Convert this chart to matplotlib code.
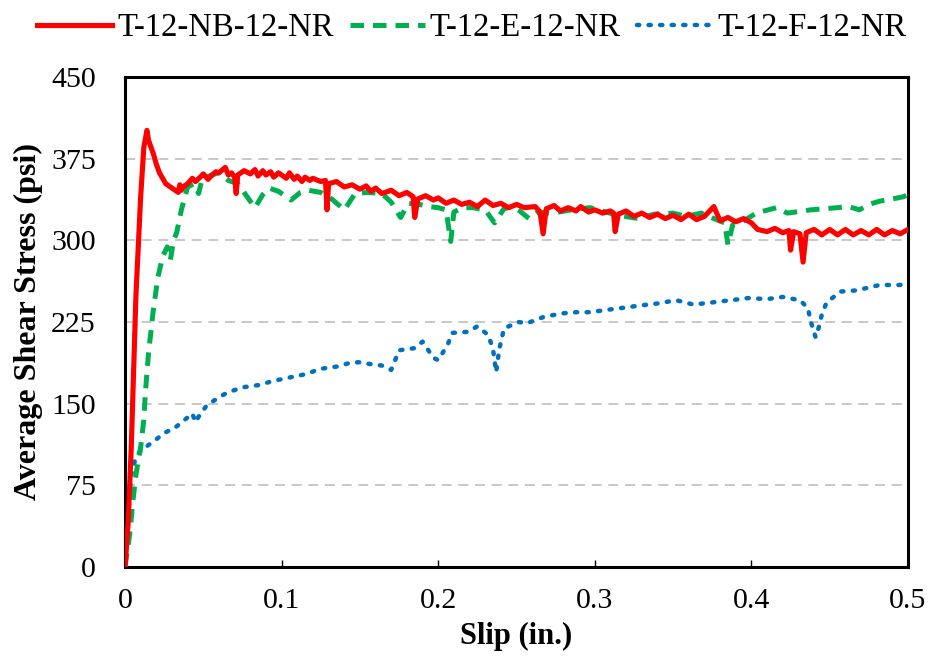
import matplotlib; matplotlib.use("Agg")
import matplotlib.pyplot as plt

# slip (in.) vs average shear stress (psi), three push-off specimens
nb_slip = [0, 0.002, 0.004, 0.0057, 0.007, 0.0087, 0.010, 0.012, 0.014, 0.015, 0.016, 0.018,
           0.020, 0.022, 0.026, 0.030, 0.034, 0.035, 0.036, 0.037, 0.040, 0.043, 0.045, 0.048,
           0.050, 0.053, 0.055, 0.058, 0.060, 0.064, 0.066, 0.068, 0.070, 0.071, 0.072, 0.076,
           0.080, 0.083, 0.085, 0.088, 0.090, 0.093, 0.095, 0.098, 0.100, 0.103, 0.105, 0.108,
           0.110, 0.113, 0.115, 0.118, 0.120, 0.125, 0.128, 0.129, 0.130, 0.135, 0.140, 0.145,
           0.150, 0.154, 0.157, 0.160, 0.164, 0.170, 0.175, 0.180, 0.184, 0.185, 0.187, 0.192,
           0.197, 0.200, 0.205, 0.210, 0.215, 0.220, 0.225, 0.230, 0.235, 0.240, 0.245, 0.250,
           0.255, 0.262, 0.265, 0.267, 0.269, 0.274, 0.278, 0.283, 0.288, 0.291, 0.296, 0.300,
           0.305, 0.310, 0.312, 0.313, 0.315, 0.320, 0.325, 0.330, 0.335, 0.340, 0.345, 0.350,
           0.355, 0.360, 0.365, 0.370, 0.376, 0.380, 0.385, 0.390, 0.395, 0.400, 0.404, 0.410,
           0.415, 0.420, 0.424, 0.425, 0.427, 0.431, 0.433, 0.435, 0.440, 0.445, 0.450, 0.455,
           0.460, 0.465, 0.470, 0.475, 0.480, 0.485, 0.490, 0.495, 0.500]
nb_stress = [0, 40, 110, 190, 250, 300, 340, 385, 401, 392, 388, 380,
             370, 362, 352, 348, 344, 351, 346, 349, 352, 357, 354, 358,
             361, 356, 359, 363, 362, 367, 360, 362, 358, 343, 360, 364,
             361, 365, 359, 364, 360, 363, 358, 362, 360, 357, 362, 356,
             359, 354, 358, 355, 357, 354, 355, 328, 352, 354, 349, 351,
             347, 350, 345, 348, 343, 346, 341, 344, 340, 321, 338, 341,
             337, 339, 334, 337, 333, 335, 331, 337, 332, 334, 330, 333,
             330, 331, 326, 306, 329, 332, 327, 330, 327, 331, 326, 328,
             325, 327, 325, 308, 324, 327, 322, 325, 321, 324, 320, 323,
             319, 324, 319, 322, 331, 318, 321, 317, 320, 316, 310, 308,
             311, 307, 309, 291, 308, 306, 280, 307, 310, 305, 310, 305,
             310, 305, 309, 305, 310, 305, 309, 306, 310]

e_slip = [0, 0.003, 0.005, 0.007, 0.010, 0.012, 0.013, 0.015, 0.018, 0.021, 0.024, 0.027,
          0.029, 0.031, 0.033, 0.036, 0.040, 0.044, 0.047, 0.049, 0.055, 0.060, 0.066, 0.072,
          0.078, 0.083, 0.088, 0.092, 0.098, 0.106, 0.112, 0.117, 0.125, 0.132, 0.140, 0.147,
          0.155, 0.164, 0.170, 0.176, 0.181, 0.188, 0.194, 0.200, 0.205, 0.208, 0.210, 0.216,
          0.222, 0.230, 0.236, 0.242, 0.247, 0.252, 0.258, 0.264, 0.273, 0.285, 0.297, 0.307,
          0.315, 0.328, 0.338, 0.350, 0.358, 0.368, 0.376, 0.383, 0.385, 0.388, 0.393, 0.403,
          0.416, 0.423, 0.438, 0.455, 0.462, 0.469, 0.475, 0.482, 0.490, 0.497, 0.500]
e_stress = [0, 30, 60, 85, 110, 135, 160, 196, 235, 266, 285, 294,
            282, 300, 307, 328, 349, 352, 343, 355, 360, 362, 355, 352,
            340, 330, 342, 348, 345, 337, 344, 346, 344, 338, 328, 343,
            344, 343, 335, 321, 334, 333, 331, 330, 328, 299, 326, 330,
            330, 328, 316, 329, 331, 327, 320, 326, 325, 328, 330, 326,
            323, 320, 324, 325, 322, 325, 320, 316, 296, 314, 316, 325,
            330, 325, 328, 330, 331, 328, 333, 336, 338, 340, 342]

f_slip = [0, 0.001, 0.002, 0.003, 0.004, 0.0064, 0.009, 0.013, 0.018, 0.025, 0.032, 0.038,
          0.043, 0.045, 0.047, 0.052, 0.057, 0.065, 0.075, 0.085, 0.095, 0.105, 0.115, 0.125,
          0.135, 0.145, 0.150, 0.158, 0.164, 0.170, 0.175, 0.185, 0.190, 0.197, 0.200, 0.206,
          0.209, 0.219, 0.225, 0.232, 0.235, 0.237, 0.239, 0.242, 0.251, 0.257, 0.268, 0.280,
          0.288, 0.297, 0.307, 0.318, 0.328, 0.340, 0.352, 0.363, 0.375, 0.387, 0.398, 0.410,
          0.420, 0.431, 0.436, 0.438, 0.441, 0.443, 0.445, 0.448, 0.457, 0.467, 0.482, 0.495,
          0.500]
f_stress = [0, 20, 45, 70, 85, 98, 105, 110, 115, 123, 128, 135,
            141, 133, 138, 148, 153, 160, 165, 167, 171, 174, 177, 182,
            184, 188, 188, 186, 185, 181, 199, 201, 207, 192, 190, 204,
            215, 216, 221, 213, 200, 179, 200, 219, 225, 224, 230, 233,
            234, 234, 236, 238, 240, 242, 245, 241, 243, 245, 247, 246,
            248, 245, 238, 225, 211, 220, 232, 243, 253, 254, 259, 259,
            262]

labels = ["T-12-NB-12-NR", "T-12-E-12-NR", "T-12-F-12-NR"]
colors = ["#FF0000", "#00B050", "#0070C0"]
y_ticks = [0, 75, 150, 225, 300, 375, 450]
x_ticks = [0, 0.1, 0.2, 0.3, 0.4, 0.5]

plt.rcParams['font.family'] = ['Liberation Serif', 'DejaVu Serif']

fig = plt.figure(figsize=(9.34, 6.66), dpi=100)
ax = fig.add_axes([125/934, 1-567/666, 783/934, 490/666])

ax.plot(nb_slip, nb_stress, color=colors[0], lw=3.7, solid_joinstyle='round', label=labels[0], zorder=4)
ax.plot(e_slip, e_stress, color=colors[1], lw=3.6, ls=(0, (2.7, 1.8)), label=labels[1], zorder=3)
ax.plot(f_slip, f_stress, color=colors[2], lw=3.2, ls=(0, (0.5, 2.1)), dash_capstyle='round',
        label=labels[2], zorder=2)

ax.set_xlim(0, 0.5); ax.set_ylim(0, 450)
ax.set_xticks(x_ticks); ax.set_xticklabels(["0", "0.1", "0.2", "0.3", "0.4", "0.5"])
ax.set_yticks(y_ticks)
ax.tick_params(axis='x', direction='in', length=5, width=1, pad=15, labelsize=21.5)
ax.tick_params(axis='y', length=0, pad=21, labelsize=21.5)
for sp in ax.spines.values():
    sp.set_linewidth(2.2); sp.set_color('black')
ax.yaxis.grid(True, ls=(0, (6, 4)), color='#BFBFBF', lw=1.2)
ax.set_axisbelow(True)

ax.set_xlabel("Slip (in.)", fontsize=22, fontweight='bold', labelpad=6)
ax.set_ylabel("Average Shear Stress (psi)", fontsize=23, fontweight='bold', labelpad=6)

fig.legend(loc='upper center', bbox_to_anchor=(0.505, 1.01), ncol=3, frameon=False,
           fontsize=23.5, handlelength=2.3, handletextpad=0.15, columnspacing=0.5,
           borderaxespad=0.2)

fig.savefig("out.png", dpi=100, facecolor='white')
